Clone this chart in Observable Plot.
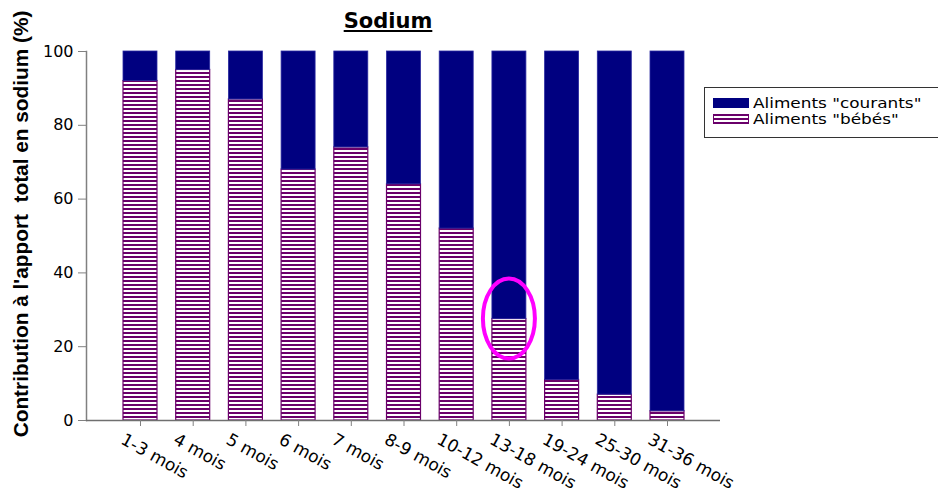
<!DOCTYPE html>
<html>
<head>
<meta charset="utf-8">
<script src="https://cdn.jsdelivr.net/npm/d3@7"></script>
<script src="https://cdn.jsdelivr.net/npm/@observablehq/plot@0.6"></script>
<style>
  body { margin: 0; background: #fff; }
  #chart { position: relative; width: 938px; height: 497px; overflow: hidden; font-family: "DejaVu Sans", sans-serif; }
  #title { position: absolute; left: 0; top: 9px; width: 776px; text-align: center;
           font: bold 21px "DejaVu Sans", sans-serif; text-decoration: underline; color: #000; }
  #legend { position: absolute; left: 704px; top: 87px; width: 260px; height: 51px; box-sizing: border-box;
            border: 1px solid #333; background: #fff; }
  #legend .sw { position: absolute; left: 8px; }
  #legend .lab { position: absolute; left: 48px; font: 13.5px "DejaVu Sans", sans-serif; line-height: 15px;
                 white-space: nowrap; color: #000; transform: scaleX(1.25); transform-origin: left center; }
</style>
</head>
<body>
<svg width="0" height="0" style="position:absolute">
  <defs>
    <pattern id="stripes" patternUnits="userSpaceOnUse" width="4" height="4">
      <rect width="4" height="4" fill="#ffffff"></rect>
      <rect width="4" height="2" fill="#6a006a"></rect>
    </pattern>
  </defs>
</svg>
<div id="chart">
  <div id="title">Sodium</div>
  <div id="legend"></div>
</div>
<script>
// Age groups and share (%) of total sodium intake coming from baby foods
const ages = ["1-3 mois", "4 mois", "5 mois", "6 mois", "7 mois", "8-9 mois",
              "10-12 mois", "13-18 mois", "19-24 mois", "25-30 mois", "31-36 mois"];
const babyShare = [92, 95, 87, 68, 74, 64, 52, 27.5, 11, 7, 2.5];
const seriesNames = ['Aliments "courants"', 'Aliments "bébés"'];
const seriesFills = ["#000080", "url(#stripes)"];
const yTicks = [0, 20, 40, 60, 80, 100];
const yLabel = "Contribution à l'apport  total en sodium (%)";
const highlighted = "13-18 mois";

// Both sources add up to 100 % for each age group
const rows = ages.map((age, i) => ({age, baby: babyShare[i], courant: 100 - babyShare[i]}));

const plot = Plot.plot({
  width: 938,
  height: 497,
  marginLeft: 86,
  marginRight: 218,
  marginTop: 51,
  marginBottom: 77,
  style: {fontFamily: "DejaVu Sans, sans-serif", fontSize: "16px", background: "transparent", overflow: "visible"},
  x: {domain: ages, range: [123, 684], paddingInner: 0.355, paddingOuter: 0, round: false, axis: null},
  y: {domain: [0, 100], axis: null},
  marks: [
    // stacked bars: baby foods at the bottom, regular foods on top
    Plot.barY(rows, {x: "age", y1: 0, y2: "baby", fill: seriesFills[1], stroke: "#6a006a", strokeWidth: 1.2}),
    Plot.barY(rows, {x: "age", y1: "baby", y2: d => d.baby + d.courant, fill: seriesFills[0], stroke: "#2a2aa0", strokeWidth: 0.8}),
    // axes
    Plot.frame({anchor: "left", stroke: "#808080", strokeWidth: 1.5}),
    Plot.ruleY([0], {stroke: "#6f6f6f", strokeWidth: 1.5}),
    Plot.axisY(yTicks, {tickSize: 8, tickPadding: 5, stroke: "#808080", fill: "#000", label: null, fontSize: 16}),
    Plot.axisX({tickSize: 6, stroke: "#808080", tickFormat: () => "", label: null}),
    Plot.text(ages, {x: d => d, frameAnchor: "bottom", rotate: 29, textAnchor: "start", lineAnchor: "top",
                     dx: -15, dy: 12, fontSize: 17, fill: "#000"}),
    Plot.text([yLabel], {frameAnchor: "left", textAnchor: "middle", rotate: -90, dx: -65, dy: -12, fontWeight: "bold",
                         fontFamily: "Liberation Sans, Arial, sans-serif", fontSize: 20.8, fill: "#000"})
  ]
});

// Highlight ring around the 13-18 month bar top
const xs = plot.scale("x"), ys = plot.scale("y");
const hi = ages.indexOf(highlighted);
d3.select(plot).append("ellipse")
  .attr("cx", xs.apply(highlighted) + xs.bandwidth / 2)
  .attr("cy", ys.apply(babyShare[hi]))
  .attr("rx", 26)
  .attr("ry", 40)
  .attr("fill", "none")
  .attr("stroke", "#ff00ff")
  .attr("stroke-width", 4);

const chart = document.getElementById("chart");
chart.insertBefore(plot, chart.firstChild);

// Legend
const legend = d3.select("#legend");
seriesNames.forEach((name, i) => {
  const top = 10 + i * 16;
  const sw = legend.append("svg").attr("class", "sw").attr("width", 36).attr("height", 10)
    .style("top", top + "px");
  sw.append("rect").attr("x", 0.5).attr("y", 0.5).attr("width", 35).attr("height", 9)
    .attr("fill", seriesFills[i]).attr("stroke", i === 0 ? "#000080" : "#6a006a");
  legend.append("div").attr("class", "lab").style("top", (top - 2.5) + "px").text(name);
});
</script>
</body>
</html>
